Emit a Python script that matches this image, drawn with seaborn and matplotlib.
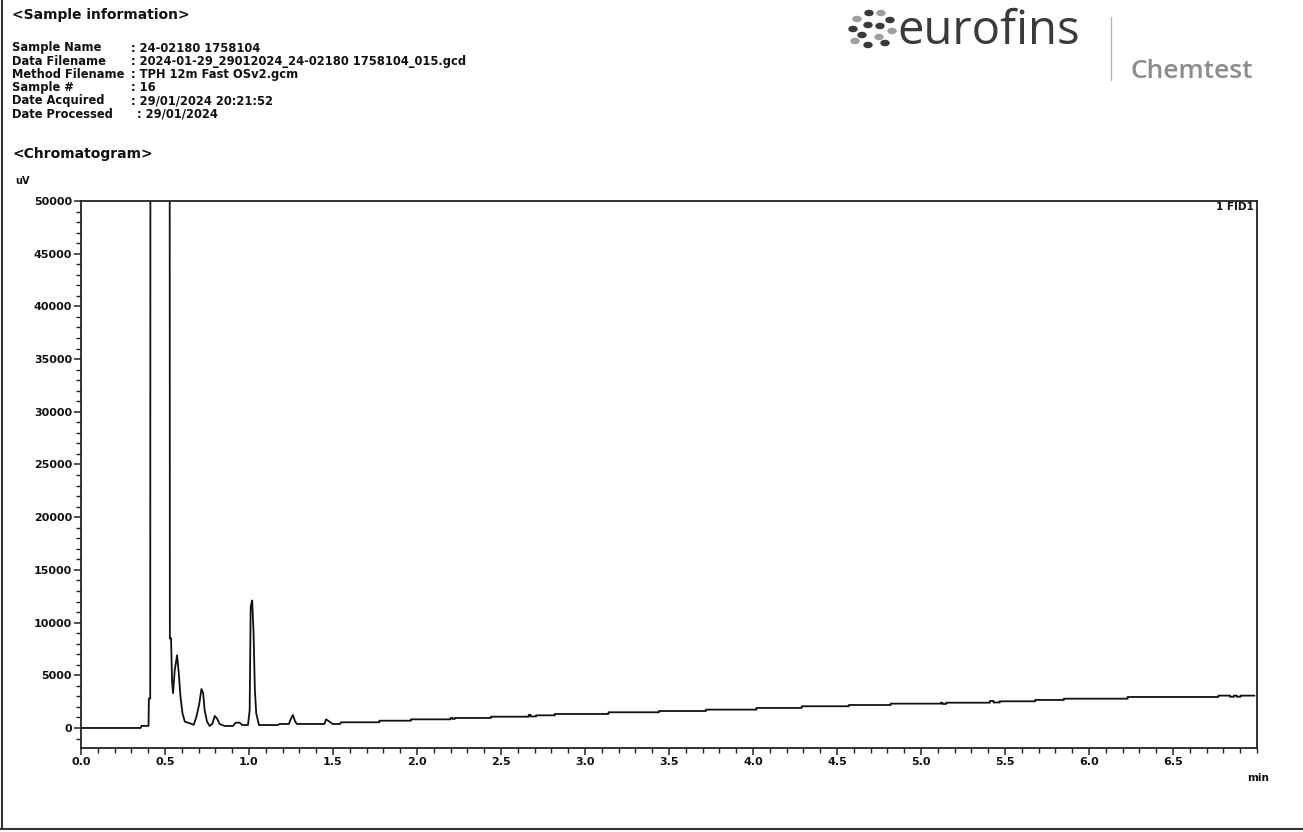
import matplotlib
matplotlib.use("Agg")
import matplotlib.pyplot as plt
from matplotlib.lines import Line2D
from matplotlib.patches import Circle
from matplotlib.ticker import MultipleLocator, FixedLocator, FixedFormatter
import seaborn as sns
import pandas as pd

# ---------------- data ----------------
rt_min = [
    0.000, 0.355, 0.360, 0.402, 0.404, 0.412, 0.414, 0.527, 0.529, 0.536,
    0.542, 0.548, 0.558, 0.572, 0.582, 0.592, 0.604, 0.618, 0.647, 0.671,
    0.687, 0.703, 0.717, 0.727, 0.736, 0.750, 0.766, 0.782, 0.796, 0.810,
    0.825, 0.855, 0.905, 0.920, 0.944, 0.960, 0.994, 1.004, 1.010, 1.019,
    1.027, 1.035, 1.043, 1.059, 1.172, 1.182, 1.237, 1.251, 1.261, 1.275,
    1.285, 1.449, 1.459, 1.479, 1.498, 1.542, 1.548, 1.776, 1.776, 1.964,
    1.964, 2.200, 2.200, 2.212, 2.212, 2.225, 2.225, 2.440, 2.440, 2.665,
    2.665, 2.676, 2.676, 2.710, 2.710, 2.820, 2.820, 3.140, 3.140, 3.440,
    3.440, 3.720, 3.720, 4.020, 4.020, 4.290, 4.290, 4.570, 4.570, 4.820,
    4.820, 5.120, 5.120, 5.128, 5.128, 5.150, 5.150, 5.410, 5.410, 5.432,
    5.432, 5.468, 5.468, 5.680, 5.680, 5.850, 5.850, 6.230, 6.230, 6.770,
    6.770, 6.840, 6.840, 6.862, 6.862, 6.880, 6.880, 6.902, 6.902, 6.985,
]
signal_uv = [
    0, 0, 200, 200, 2800, 2800, 98000, 98000, 8500, 8500,
    4400, 3300, 5500, 6900, 5200, 3000, 1400, 600, 450, 300,
    1070, 2200, 3700, 3300, 1700, 600, 190, 400, 1140, 900,
    380, 190, 190, 500, 500, 280, 280, 1700, 11500, 12100,
    9100, 3600, 1400, 280, 280, 380, 380, 920, 1230, 600,
    380, 380, 820, 600, 380, 380, 540, 540, 690, 690,
    820, 820, 950, 950, 860, 860, 950, 950, 1070, 1070,
    1250, 1250, 1100, 1100, 1200, 1200, 1330, 1330, 1490, 1490,
    1610, 1610, 1740, 1740, 1900, 1900, 2060, 2060, 2180, 2180,
    2310, 2310, 2400, 2400, 2280, 2280, 2400, 2400, 2560, 2560,
    2420, 2420, 2530, 2530, 2660, 2660, 2780, 2780, 2940, 2940,
    3070, 3070, 2960, 2960, 3070, 3070, 2960, 2960, 3070, 3070,
]

x_ticks = [0.0, 0.5, 1.0, 1.5, 2.0, 2.5, 3.0, 3.5, 4.0, 4.5, 5.0, 5.5, 6.0, 6.5]
x_tick_labels = ["0.0", "0.5", "1.0", "1.5", "2.0", "2.5", "3.0", "3.5",
                 "4.0", "4.5", "5.0", "5.5", "6.0", "6.5"]
y_ticks = [0, 5000, 10000, 15000, 20000, 25000, 30000, 35000, 40000, 45000, 50000]
y_tick_labels = ["0", "5000", "10000", "15000", "20000", "25000", "30000",
                 "35000", "40000", "45000", "50000"]

info_keys = ["Sample Name", "Data Filename", "Method Filename", "Sample #",
             "Date Acquired", "Date Processed"]
info_vals = [": 24-02180 1758104",
             ": 2024-01-29_29012024_24-02180 1758104_015.gcd",
             ": TPH 12m Fast OSv2.gcm",
             ": 16",
             ": 29/01/2024 20:21:52",
             ": 29/01/2024"]

# ---------------- figure ----------------
sns.set_theme(style="white")
plt.rcParams["font.family"] = ["DejaVu Sans"]

W, H = 1303, 832
fig = plt.figure(figsize=(W / 100, H / 100), dpi=100)
fig.patch.set_facecolor("white")


def fx(px):
    return px / W


def fy(py):
    return 1 - py / H


ax_left, ax_right, ax_top, ax_bottom = 81, 1257, 201, 748
ax = fig.add_axes([fx(ax_left), fy(ax_bottom), (ax_right - ax_left) / W,
                   (ax_bottom - ax_top) / H])
ax.set_facecolor("white")

df = pd.DataFrame({"rt": rt_min, "uv": signal_uv})
sns.lineplot(data=df, x="rt", y="uv", ax=ax, color="#111111", linewidth=1.3,
             estimator=None, sort=False)

ax.set_xlim(0, 7.0)
ax.set_ylim(-1900, 50000)
ax.set_xlabel("")
ax.set_ylabel("")

ax.xaxis.set_major_locator(FixedLocator(x_ticks))
ax.xaxis.set_major_formatter(FixedFormatter(x_tick_labels))
ax.xaxis.set_minor_locator(MultipleLocator(0.1))
ax.yaxis.set_major_locator(FixedLocator(y_ticks))
ax.yaxis.set_major_formatter(FixedFormatter(y_tick_labels))
ax.yaxis.set_minor_locator(MultipleLocator(1000))

ax.tick_params(axis="both", which="major", direction="out", length=5, width=1.1,
               color="#222222", labelsize=8, pad=1.5)
ax.tick_params(axis="both", which="minor", direction="out", length=3.5, width=1.0,
               color="#222222")
ax.tick_params(axis="x", which="both", bottom=True, top=False)
ax.tick_params(axis="y", which="both", left=True, right=False)
for lab in ax.get_xticklabels() + ax.get_yticklabels():
    lab.set_fontweight("bold")
    lab.set_color("#111111")

for sp in ax.spines.values():
    sp.set_visible(True)
    sp.set_color("#222222")
    sp.set_linewidth(1.3)
ax.grid(False)

# ---------------- texts ----------------
fig.text(fx(12), fy(15), "<Sample information>", fontsize=10, fontweight="bold",
         va="center", ha="left", color="#111111")
line_y0, line_dy = 48, 13.2
for i, (k, v) in enumerate(zip(info_keys, info_vals)):
    yy = line_y0 + i * line_dy
    fig.text(fx(12), fy(yy), k, fontsize=8.3, fontweight="bold", va="center",
             ha="left", color="#111111")
    xv = 137 if k == "Date Processed" else 131
    fig.text(fx(xv), fy(yy), v, fontsize=8.3, fontweight="bold", va="center",
             ha="left", color="#111111")

fig.text(fx(12), fy(154), "<Chromatogram>", fontsize=10, fontweight="bold",
         va="center", ha="left", color="#111111")
fig.text(fx(15), fy(181), "uV", fontsize=7, fontweight="bold", va="center",
         ha="left", color="#111111")
fig.text(fx(1254), fy(207), "1 FID1", fontsize=7.5, fontweight="bold", va="center",
         ha="right", color="#111111")
fig.text(fx(1258), fy(778), "min", fontsize=7.5, fontweight="bold", va="center",
         ha="center", color="#111111")

# ---------------- logo ----------------
fig.text(fx(897), fy(31), "eurofins", fontsize=34, family="Open Sans",
         va="center", ha="left", color="#3a3a3a")
fig.text(fx(1130), fy(71), "Chemtest", fontsize=19, family="Open Sans",
         fontweight=600, va="center", ha="left", color="#8c8c8c")
fig.add_artist(Line2D([fx(1111), fx(1111)], [fy(17), fy(80)], color="#b5b5b5",
                      linewidth=1.0))
dots = [(869, 13, "#3a3a3a"), (881, 13, "#a0a0a0"), (857, 19, "#a0a0a0"),
        (890, 20, "#3a3a3a"), (868, 25, "#3a3a3a"), (880, 26, "#3a3a3a"),
        (853, 29, "#3a3a3a"), (892, 31, "#a0a0a0"), (862, 35, "#3a3a3a"),
        (879, 37, "#a0a0a0"), (868, 45, "#3a3a3a"), (885, 43, "#3a3a3a"),
        (855, 41, "#a0a0a0")]
for (dx, dy, c) in dots:
    fig.add_artist(Circle((fx(dx), fy(dy)), radius=4.0 / W, color=c,
                          transform=fig.transFigure))

# ---------------- page border ----------------
fig.add_artist(Line2D([fx(1.5), fx(1.5)], [fy(0), fy(829)], color="#333333",
                      linewidth=1.5))
fig.add_artist(Line2D([fx(0), fx(W)], [fy(829), fy(829)], color="#333333",
                      linewidth=1.5))

fig.savefig("out.png", dpi=100, facecolor="white")
